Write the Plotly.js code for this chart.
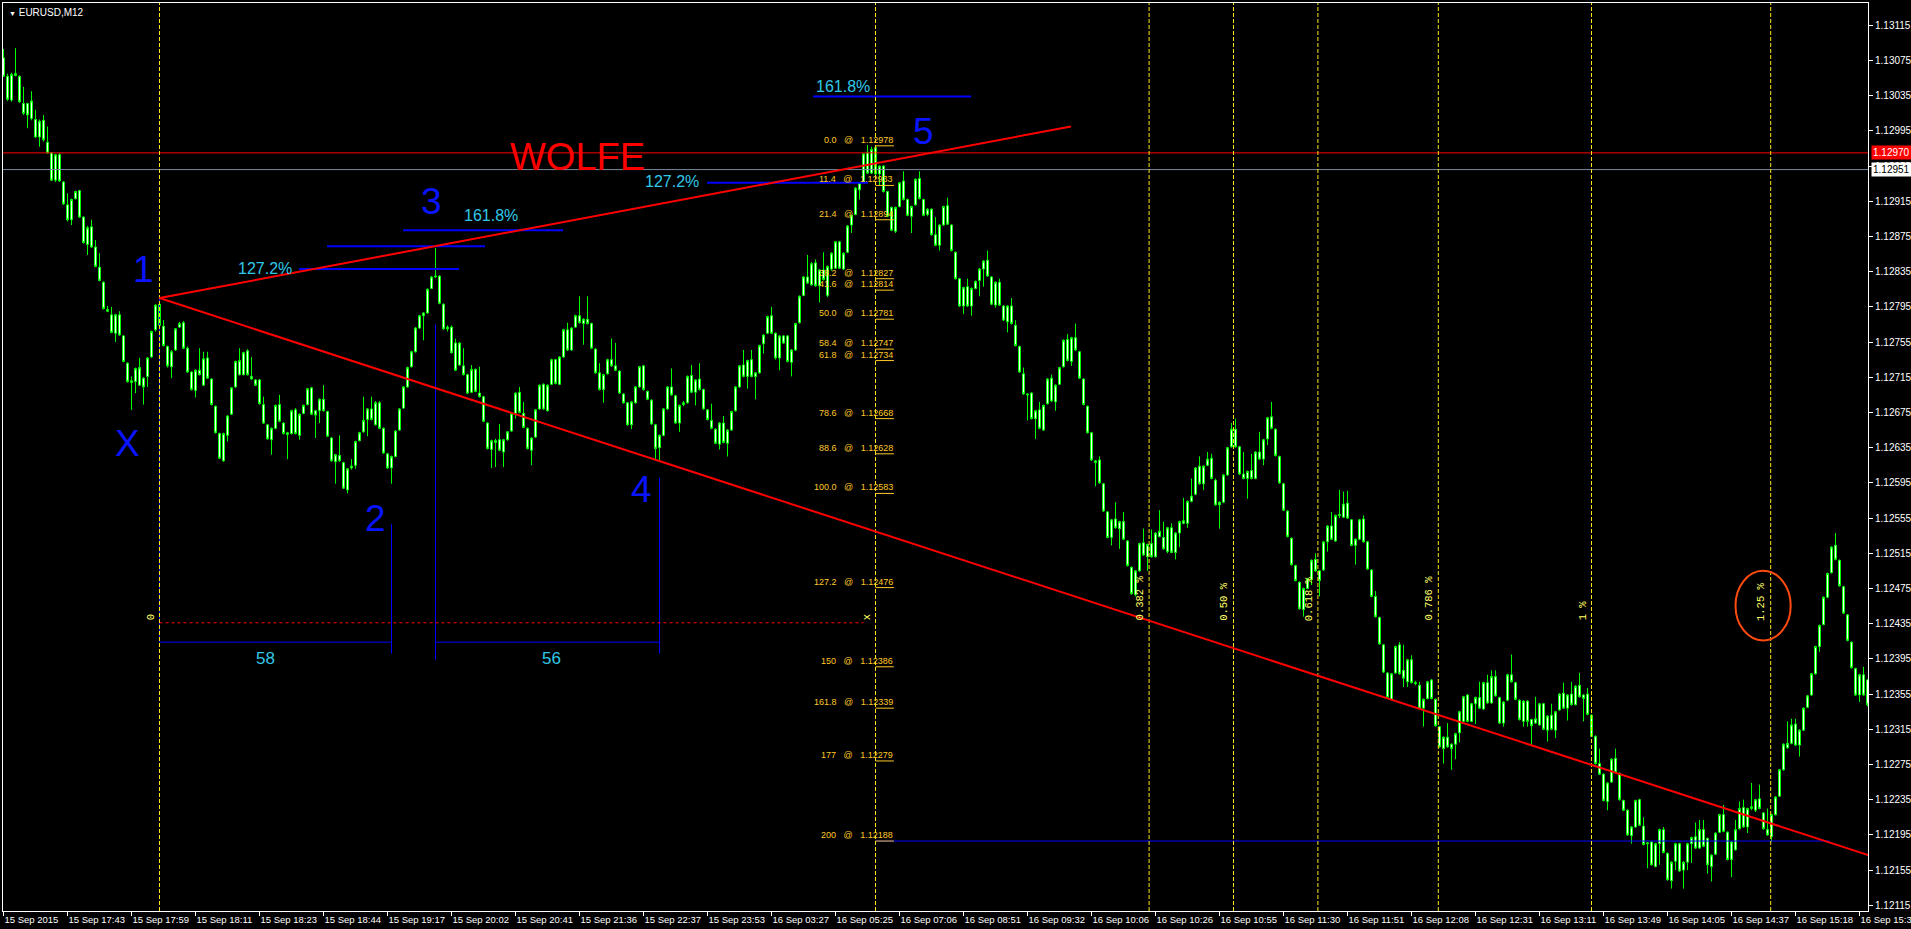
<!DOCTYPE html>
<html>
<head>
<meta charset="utf-8">
<script src="https://cdn.plot.ly/plotly-3.0.1.min.js"></script>
<style>
  html, body { margin: 0; padding: 0; background: #000; }
  #chart { width: 1911px; height: 929px; }
</style>
</head>
<body>
<div id="chart"></div>
<script>
// EURUSD M12 candles. Quotes are stored in points (0.00001) above BASE.
const BASE = 1.12;

const O = [
1078,1057,1030,1060,1057,1026,1026,1009,1008,988,
1007,982,970,939,968,937,911,894,918,927,
897,866,886,863,840,823,790,786,765,786,
762,731,711,710,706,714,716,738,769,774,
773,750,727,746,772,777,748,721,700,723,
706,737,713,682,651,620,649,673,704,718,
718,745,716,712,712,684,661,644,657,684,
663,652,651,678,649,674,684,703,677,677,
690,676,646,619,626,618,587,612,615,643,
653,667,679,661,686,657,628,612,625,655,
680,704,727,744,771,785,788,816,829,830,
798,770,772,754,729,728,718,698,724,697,
693,663,633,643,644,630,644,654,674,698,
674,657,632,647,679,707,677,707,735,707,
738,769,746,772,785,776,781,776,747,720,
701,719,735,728,722,696,686,661,686,704,
728,699,689,661,635,649,679,704,694,663,
684,686,717,698,713,701,678,666,656,639,
663,640,655,677,704,729,716,735,716,720,
753,765,785,765,737,762,762,732,746,777,
808,829,820,845,819,837,808,838,839,869,
838,857,888,900,928,937,970,947,976,946,
955,926,908,881,909,938,917,898,911,941,
917,900,906,877,865,888,910,888,857,827,
796,818,796,816,825,838,848,829,797,823,
796,778,796,774,750,719,696,697,668,678,
655,685,714,687,707,727,758,733,760,744,
713,682,652,620,621,594,562,533,554,543,
551,529,499,468,495,527,511,526,511,534,
533,517,544,516,538,549,549,574,582,614,
594,615,623,598,570,573,604,636,656,636,
605,600,609,600,630,622,645,670,656,625,
594,563,532,501,482,451,475,485,508,495,
496,528,546,529,558,556,572,553,524,531,
554,528,496,466,442,411,379,349,379,411,
382,369,394,368,365,339,350,371,349,318,
293,306,298,298,311,324,354,324,344,351,
338,368,345,375,351,322,348,377,368,348,
324,347,326,322,320,344,314,331,314,337,
356,339,355,343,365,354,355,331,307,276,
264,233,255,282,265,234,223,194,204,235,
205,186,187,159,185,201,174,143,165,185,
155,164,185,193,180,201,191,159,173,198,
218,198,167,178,202,226,204,225,223,236,
220,201,193,218,239,269,294,299,321,297,
314,340,354,378,409,434,465,493,524,507,
477,445,414,384,354,377,371];

const H = [
1088,1060,1061,1089,1058,1045,1027,1040,1019,1008,
1013,1000,971,969,970,938,924,918,927,928,
898,887,894,871,856,824,796,795,787,790,
763,732,716,726,737,715,738,768,798,805,
780,751,746,771,778,779,750,722,724,748,
744,744,714,683,652,652,672,704,734,748,
744,747,738,713,713,693,662,658,684,695,
664,653,678,680,674,684,703,704,678,691,
706,677,647,628,649,619,612,622,643,653,
693,680,693,688,688,658,629,626,655,680,
705,727,745,772,786,789,816,830,862,831,
799,774,774,759,755,748,719,729,725,727,
694,664,644,645,662,645,654,675,698,704,
687,658,647,679,707,708,707,736,736,739,
770,777,772,786,807,782,807,777,748,731,
719,736,759,754,723,697,687,688,705,728,
729,700,690,662,650,680,705,725,695,684,
688,717,729,713,731,702,679,685,657,664,
671,656,677,705,729,746,735,746,721,752,
764,785,795,766,763,763,763,747,777,808,
830,854,846,849,838,857,842,857,870,870,
857,888,900,931,937,970,979,977,978,956,
956,927,909,909,937,949,918,910,941,949,
918,907,907,897,889,910,919,889,858,828,
818,827,817,825,839,848,859,830,824,827,
797,797,805,780,751,726,697,698,678,687,
684,714,718,707,727,758,764,761,776,745,
714,683,653,621,625,595,563,554,573,552,
562,530,500,496,527,543,526,542,539,564,
551,545,549,539,552,578,575,600,613,625,
615,630,628,600,574,605,636,663,668,637,
630,609,628,631,653,645,670,687,657,626,
595,564,533,502,483,476,487,508,515,496,
529,547,562,559,587,585,586,554,532,554,
558,529,497,472,443,412,380,379,410,414,
411,395,399,370,369,350,370,372,350,319,
307,322,299,311,336,353,355,345,352,369,
369,377,382,382,352,347,378,400,369,349,
348,348,327,352,345,345,331,344,336,356,
368,355,369,365,379,355,362,332,308,293,
265,255,282,293,266,235,224,205,235,236,
215,187,188,186,202,204,175,165,186,186,
165,186,193,209,212,212,192,173,198,219,
229,199,188,212,233,235,226,254,236,252,
221,225,219,239,270,299,324,327,327,315,
340,354,379,410,434,466,493,523,538,508,
478,446,415,385,378,386,372];

const L = [
1057,1029,1028,1057,1027,1013,998,1007,987,977,
983,969,938,937,937,911,892,888,917,896,
867,854,862,840,824,792,789,765,755,762,
732,709,678,697,705,684,704,737,767,773,
750,726,714,745,771,747,720,700,692,717,
705,713,683,651,622,619,642,672,703,717,
717,717,712,705,684,662,644,627,656,664,
650,622,650,650,644,673,683,672,646,663,
676,647,619,594,619,588,583,610,611,642,
652,648,666,660,656,628,611,594,624,654,
679,703,726,743,770,757,787,815,828,798,
769,767,742,722,728,717,696,697,698,692,
664,633,612,613,631,613,643,653,668,674,
657,633,615,646,678,678,676,706,707,706,
737,745,745,771,776,752,775,747,719,700,
686,718,727,722,696,685,660,656,685,703,
700,689,661,622,621,648,678,694,662,653,
682,685,697,683,700,678,666,656,639,633,
640,625,654,676,703,715,702,715,690,719,
742,764,764,735,723,753,732,716,745,776,
807,821,819,818,800,825,806,836,838,838,
837,856,879,899,917,936,946,946,945,933,
925,897,881,879,908,916,898,879,910,917,
898,898,876,864,859,887,888,858,826,795,
787,795,785,815,807,818,829,797,794,796,
779,766,775,750,720,695,666,667,645,656,
654,684,687,677,706,726,733,728,745,713,
683,651,620,591,594,562,532,524,543,520,
530,500,468,466,494,512,495,510,510,533,
519,515,515,508,522,548,544,573,581,593,
587,614,599,569,543,572,603,635,635,604,
599,577,599,599,621,615,638,656,625,594,
563,533,501,483,451,443,474,479,494,466,
495,517,530,528,555,555,554,523,502,530,
527,496,465,442,411,379,350,348,378,377,
363,363,367,365,338,318,349,349,318,294,
276,294,269,281,300,323,323,323,321,338,
337,344,344,352,321,318,347,368,348,325,
318,318,297,321,319,314,301,314,305,336,
338,325,342,342,351,324,331,306,275,263,
233,223,254,265,234,222,194,185,203,205,
183,157,160,158,161,174,143,134,155,153,
134,155,163,179,179,181,151,142,172,197,
198,166,147,177,201,203,197,223,221,224,
201,194,187,217,238,268,293,298,296,284,
313,339,353,377,403,433,464,492,507,477,
446,415,384,353,346,353,341];

const C = [
1057,1031,1059,1058,1028,1015,1013,1029,988,1006,
985,970,939,968,938,912,894,917,926,897,
868,885,863,841,825,793,792,766,786,763,
733,710,709,725,726,704,737,767,797,798,
751,728,744,770,776,748,721,701,723,718,
736,714,684,652,623,651,671,703,733,734,
743,718,713,706,685,663,645,657,683,665,
651,650,677,651,673,683,702,673,672,690,
677,648,620,627,620,589,611,614,642,652,
666,679,667,686,657,629,612,625,654,679,
704,726,744,771,785,788,815,829,830,799,
770,772,743,723,754,718,697,724,699,693,
665,634,643,641,632,644,653,674,697,675,
658,634,646,678,706,679,706,735,708,738,
769,746,771,785,777,781,776,748,720,701,
718,735,728,723,697,686,661,687,704,727,
701,690,662,634,649,679,704,695,663,683,
686,716,698,712,701,679,667,657,640,663,
641,655,676,704,728,716,734,716,720,751,
763,784,765,737,762,754,733,746,776,807,
829,822,844,819,837,826,841,856,869,839,
856,887,899,930,936,969,947,974,946,955,
926,898,882,908,936,917,899,909,940,918,
899,906,877,865,888,909,889,859,827,796,
817,796,816,824,838,847,830,798,823,797,
780,796,776,751,721,696,695,668,677,657,
683,713,688,706,726,757,734,760,746,714,
684,652,621,618,595,563,533,553,544,551,
531,501,469,495,526,513,525,511,538,540,
520,544,516,538,551,552,574,580,612,594,
614,622,600,570,573,604,635,656,636,605,
600,608,600,630,622,644,669,657,626,595,
564,534,502,484,452,475,486,507,495,484,
528,546,531,558,559,571,555,524,531,553,
528,497,466,443,412,380,351,378,409,378,
373,394,368,367,339,349,369,350,319,295,
306,295,293,310,335,352,324,344,351,339,
368,345,375,353,322,346,377,369,349,326,
347,324,319,327,344,315,330,315,335,355,
339,354,343,364,352,350,332,307,276,264,
234,254,281,266,235,223,195,204,234,206,
184,185,161,185,201,175,144,164,185,154,
164,185,192,180,201,182,161,172,197,218,
199,167,187,201,225,204,225,227,235,225,
202,195,218,238,269,298,299,320,297,314,
339,353,378,409,433,465,492,522,508,478,
447,416,385,354,377,354,343];

// Time axis: one label every 16 bars
const tickBars = [0,16,32,48,64,80,96,112,128,144,160,176,192,208,224,240,256,272,288,304,320,336,352,368,384,400,416,432,448,464];
const tickLabels = ["15 Sep 2015","15 Sep 17:43","15 Sep 17:59","15 Sep 18:11","15 Sep 18:23","15 Sep 18:44",
  "15 Sep 19:17","15 Sep 20:02","15 Sep 20:41","15 Sep 21:36","15 Sep 22:37","15 Sep 23:53","16 Sep 03:27",
  "16 Sep 05:25","16 Sep 07:06","16 Sep 08:51","16 Sep 09:32","16 Sep 10:06","16 Sep 10:26","16 Sep 10:55",
  "16 Sep 11:30","16 Sep 11:51","16 Sep 12:08","16 Sep 12:31","16 Sep 13:11","16 Sep 13:49","16 Sep 14:05",
  "16 Sep 14:37","16 Sep 15:18","16 Sep 15:30"];

// Fibonacci retracement from wave 5 high
const fibPct   = ["0.0","11.4","21.4","38.2","41.6","50.0","58.4","61.8","78.6","88.6","100.0","127.2","150","161.8","177","200"];
const fibPrice = [1.12978,1.12933,1.12894,1.12827,1.12814,1.12781,1.12747,1.12734,1.12668,1.12628,1.12583,1.12476,1.12386,1.12339,1.12279,1.12188];
const fibBar0 = 218, fibBar1 = 222.6;

// Fibonacci time zones
const tzBars  = [39, 218, 286.4, 307.5, 328.6, 358.7, 397, 441.8];
const tzText  = ["0", "x", "0.382 %", "0.50 %", "0.618 %", "0.786 %", "1 %", "1.25 %"];
const tzLevel = 1.12436;

// Wolfe wave points and labels
const waveLabels = [
  {t:"X", bar:30.9,  p:1.12640},
  {t:"1", bar:34.9,  p:1.12837},
  {t:"2", bar:92.9,  p:1.12554},
  {t:"3", bar:106.9, p:1.12915},
  {t:"4", bar:159.6, p:1.12587},
  {t:"5", bar:230.1, p:1.12994}
];
const wolfeLines = [
  {x0:39, y0:1.12805, x1:266.9, y1:1.13000},
  {x0:39, y0:1.12805, x1:466.2, y1:1.12172}
];

// Fibonacci expansion targets (blue) with their captions
const targets = [
  {x0:73.9,  x1:113.9, p:1.12838, w:2, cap:"127.2%", capBar:72.5,  side:"left"},
  {x0:80.9,  x1:120.4, p:1.12864, w:2, cap:"",       capBar:0,     side:""},
  {x0:99.9,  x1:139.9, p:1.12882, w:2, cap:"161.8%", capBar:121.9, side:"above"},
  {x0:175.9, x1:216.1, p:1.12936, w:2, cap:"127.2%", capBar:174.4, side:"left"},
  {x0:202.4, x1:241.9, p:1.13034, w:2, cap:"161.8%", capBar:202.6, side:"aboveLeft"},
  {x0:218,   x1:456.6, p:1.12188, w:1, cap:"",       capBar:0,     side:""}
];

// Bar counts between wave points
const countLevel = 1.12414;
const countLegs = [
  {bar:39,  top:1.12805, bottom:1.12414},
  {bar:97,  top:1.12548, bottom:1.12401},
  {bar:108, top:1.12775, bottom:1.12394},
  {bar:164, top:1.12601, bottom:1.12401}
];
const counts = [
  {from:39,  to:97,  label:"58", bar:65.6},
  {from:108, to:164, label:"56", bar:136.9}
];
const countLabelPrice = 1.12395;

// Highlight around the last time zone
const ring = {x0:433.0, x1:446.8, y0:1.12416, y1:1.12495};

// Price lines
const askPrice = 1.12970, bidPrice = 1.12951;

const px = v => +(BASE + v / 1e5).toFixed(5);
const bars = O.map((_, i) => i);

const FONT = "Liberation Sans, Arial, sans-serif";
const YEL = "#ffe31a", FIBC = "#ffc828", TZC = "#ffff66", CYAN = "#30c8e8", BLUE = "#0000ff";

const shapes = [];
const ann = [];
const line = (x0, y0, x1, y1, color, width, dash, yref) => shapes.push({
  type: "line", xref: "x", yref: yref || "y", x0, y0, x1, y1,
  line: {color, width, dash: dash || "solid"}
});

// price lines
line(-1, askPrice, 467, askPrice, "#ff0000", 1);
line(-1, bidPrice, 467, bidPrice, "#778899", 1);

// bar-count legs
countLegs.forEach(l => line(l.bar, l.top, l.bar, l.bottom, BLUE, 1));
counts.forEach(c => {
  line(c.from, countLevel, c.to, countLevel, BLUE, 1);
  ann.push({x: c.bar, y: countLabelPrice, text: c.label, showarrow: false, xanchor: "center", yanchor: "middle",
    font: {family: FONT, size: 17, color: CYAN}});
});

// expansion targets
targets.forEach(t => {
  line(t.x0, t.p, t.x1, t.p, BLUE, t.w);
  if (!t.cap) return;
  const a = {x: t.capBar, y: t.p, text: t.cap, showarrow: false, font: {family: FONT, size: 16, color: CYAN}};
  if (t.side === "left") { a.xanchor = "right"; a.yanchor = "middle"; a.yshift = 1; }
  else if (t.side === "above") { a.xanchor = "center"; a.yanchor = "bottom"; a.yshift = 4; }
  else { a.xanchor = "left"; a.yanchor = "bottom"; a.yshift = 0; }
  ann.push(a);
});

// time zones
line(tzBars[0], tzLevel, tzBars[1] - 3, tzLevel, "#ff0000", 1, "3px,3px");
tzBars.forEach((b, i) => {
  shapes.push({type: "line", xref: "x", yref: "paper", x0: b, x1: b, y0: 0, y1: 1,
    line: {color: YEL, width: 1, dash: "4px,2px"}});
  ann.push({x: b, y: tzLevel, text: tzText[i], showarrow: false, textangle: -90,
    xanchor: "right", yanchor: "bottom", xshift: -1, yshift: 0,
    font: {family: "Liberation Mono, DejaVu Sans Mono, monospace", size: 10.5, color: TZC}});
});

// wolfe lines
wolfeLines.forEach(w => line(w.x0, w.y0, w.x1, w.y1, "#ff0000", 2));

// retracement levels
fibPrice.forEach((p, i) => {
  line(fibBar0, p, fibBar1, p, FIBC, 1);
  ann.push({x: fibBar1, y: p, text: fibPct[i] + "\u00a0\u00a0\u00a0@\u00a0\u00a0\u00a0" + p.toFixed(5),
    showarrow: false, xanchor: "right", yanchor: "bottom", yshift: 0, borderpad: 0,
    font: {family: FONT, size: 9, color: FIBC}});
});

// ring
shapes.push({type: "circle", xref: "x", yref: "y", x0: ring.x0, x1: ring.x1, y0: ring.y0, y1: ring.y1,
  line: {color: "#ff4a10", width: 2}});

// wave labels
waveLabels.forEach(w => ann.push({x: w.bar, y: w.p, text: w.t, showarrow: false,
  xanchor: "center", yanchor: "middle", font: {family: FONT, size: 37, color: "#0a14ff"}}));
ann.push({x: 143.6, y: 1.12965, text: "WOLFE", showarrow: false, xanchor: "center", yanchor: "middle",
  font: {family: FONT, size: 38, color: "#ff0000"}});

// price tags on the scale
ann.push({xref: "paper", x: 1, xanchor: "left", xshift: 3, y: askPrice, yanchor: "middle",
  text: askPrice.toFixed(5), showarrow: false, bgcolor: "#ff0000", borderpad: 1,
  font: {family: FONT, size: 10, color: "#ffffff"}});
ann.push({xref: "paper", x: 1, xanchor: "left", xshift: 3, y: bidPrice, yanchor: "middle",
  text: bidPrice.toFixed(5), showarrow: false, bgcolor: "#ffffff", borderpad: 1,
  font: {family: FONT, size: 10, color: "#000000"}});

// symbol caption
ann.push({xref: "paper", yref: "paper", x: 0, y: 1, xanchor: "left", yanchor: "top", xshift: 4, yshift: -2,
  text: "<span style=\"font-size:7px\">\u25BC</span> EURUSD,M12", showarrow: false,
  font: {family: FONT, size: 10, color: "#ffffff"}});

const trace = {
  type: "candlestick",
  x: bars,
  open: O.map(px), high: H.map(px), low: L.map(px), close: C.map(px),
  increasing: {line: {color: "#00ff00", width: 1}, fillcolor: "#ffffff"},
  decreasing: {line: {color: "#00ff00", width: 1}, fillcolor: "#ffffff"},
  whiskerwidth: 0,
  hoverinfo: "skip"
};

const layout = {
  width: 1911, height: 929,
  margin: {l: 3, r: 43, t: 3, b: 18, pad: 0},
  paper_bgcolor: "#000000", plot_bgcolor: "#000000",
  showlegend: false,
  boxgap: 0.3,
  font: {family: FONT, size: 10, color: "#ffffff"},
  xaxis: {
    type: "linear", range: [-0.125, 466.125], rangeslider: {visible: false},
    tickmode: "array", tickvals: tickBars, ticktext: tickLabels, tickangle: 0,
    ticks: "outside", ticklen: 4, tickcolor: "#ffffff", tickwidth: 1,
    ticklabelposition: "outside right", ticklabeloverflow: "allow",
    tickfont: {family: FONT, size: 9.5, color: "#ffffff"},
    showgrid: false, zeroline: false,
    showline: true, mirror: true, linecolor: "#ffffff", linewidth: 1
  },
  yaxis: {
    side: "right", range: [1.121085, 1.131403],
    tick0: 1.12115, dtick: 0.0004, tickformat: ".5f",
    ticks: "outside", ticklen: 4, tickcolor: "#ffffff", tickwidth: 1,
    ticklabeloverflow: "allow",
    tickfont: {family: FONT, size: 10, color: "#ffffff"},
    showgrid: false, zeroline: false,
    showline: true, mirror: true, linecolor: "#ffffff", linewidth: 1
  },
  shapes: shapes,
  annotations: ann
};

Plotly.newPlot("chart", [trace], layout, {staticPlot: true, displayModeBar: false});
</script>
</body>
</html>
